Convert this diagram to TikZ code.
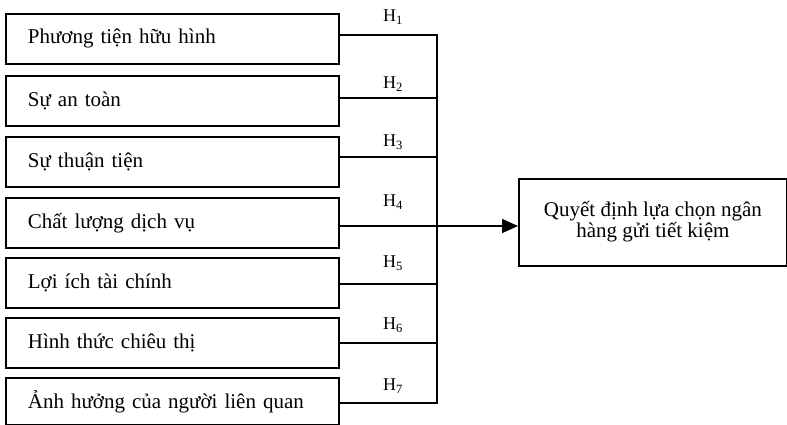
\documentclass[tikz,border=0pt]{standalone}
\usepackage{fontspec}
\setmainfont{Liberation Serif}
\usetikzlibrary{arrows.meta}
\begin{document}
\begin{tikzpicture}[x=1pt,y=-1pt,
  factor/.style={draw,line width=1.8pt,minimum width=333pt,minimum height=50pt,
    text width=305pt,align=left,inner sep=0pt,anchor=north west,
    font=\fontsize{21}{25}\selectfont},
  goalbox/.style={draw,line width=1.8pt,minimum width=268pt,minimum height=87pt,
    anchor=north west,align=center,inner sep=0pt,font=\fontsize{21}{25}\selectfont},
  link/.style={line width=1.8pt},
  hlab/.style={font=\fontsize{18}{20}\selectfont,inner sep=0pt}]
\useasboundingbox (0,0) rectangle (787,425);
\node[factor] (b1) at (5,13) {\hspace*{8pt}Phương tiện hữu hình};
\node[factor] (b2) at (5,75) {\hspace*{8pt}Sự an toàn};
\node[factor] (b3) at (5,136) {\hspace*{8pt}Sự thuận tiện};
\node[factor] (b4) at (5,197) {\hspace*{8pt}Chất lượng dịch vụ};
\node[factor] (b5) at (5,257) {\hspace*{8pt}Lợi ích tài chính};
\node[factor] (b6) at (5,317) {\hspace*{8pt}Hình thức chiêu thị};
\node[factor,minimum height=47pt] (b7) at (5,377) {\hspace*{8pt}Ảnh hưởng của người liên quan};
\node[goalbox] (goal) at (518,178) {\raisebox{6pt}{\shortstack{Quyết định lựa chọn ngân\\[-1pt]hàng gửi tiết kiệm}}};
\coordinate (j1) at (437,35);
\coordinate (j2) at (437,98);
\coordinate (j3) at (437,157);
\coordinate (j4) at (437,226);
\coordinate (j5) at (437,284);
\coordinate (j6) at (437,343);
\coordinate (j7) at (437,403);
\draw[link] (b1.east |- j1) -- (j1) -- (j7) -- (b7.east |- j7);
\draw[link] (b2.east |- j2) -- (j2);
\draw[link] (b3.east |- j3) -- (j3);
\draw[link] (b5.east |- j5) -- (j5);
\draw[link] (b6.east |- j6) -- (j6);
\draw[link,-{Triangle[length=16pt,width=14pt]}] (b4.east |- j4) -- (goal.west |- j4);
\node[hlab] (h1) at (393,17) {H\textsubscript{1}};
\node[hlab] (h2) at (393,84) {H\textsubscript{2}};
\node[hlab] (h3) at (393,142) {H\textsubscript{3}};
\node[hlab] (h4) at (393,202) {H\textsubscript{4}};
\node[hlab] (h5) at (393,263) {H\textsubscript{5}};
\node[hlab] (h6) at (393,325) {H\textsubscript{6}};
\node[hlab] (h7) at (393,386) {H\textsubscript{7}};
\end{tikzpicture}
\end{document}
